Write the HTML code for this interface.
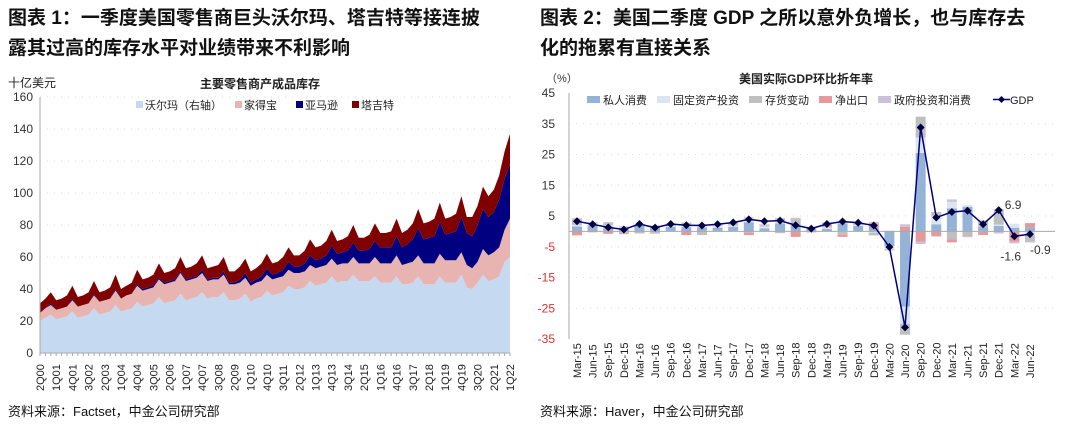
<!DOCTYPE html>
<html><head><meta charset="utf-8">
<style>
body{margin:0;width:1080px;height:425px;background:#fff;overflow:hidden;font-family:"Liberation Sans","Noto Sans CJK SC",sans-serif;}
svg{position:absolute;left:0;top:0}
</style></head>
<body>
<svg id="s" width="1080" height="425" xmlns="http://www.w3.org/2000/svg" font-family="Liberation Sans, Noto Sans CJK SC, sans-serif">
<text x="8" y="24" font-size="19" font-weight="bold" fill="#111">图表 1：一季度美国零售商巨头沃尔玛、塔吉特等接连披</text>
<text x="8" y="54" font-size="19" font-weight="bold" fill="#111">露其过高的库存水平对业绩带来不利影响</text>
<text x="540" y="24" font-size="19" font-weight="bold" fill="#111">图表 2：美国二季度 GDP 之所以意外负增长，也与库存去</text>
<text x="540" y="54" font-size="19" font-weight="bold" fill="#111">化的拖累有直接关系</text>
<text x="8" y="416" font-size="13" fill="#111">资料来源：Factset，中金公司研究部</text>
<text x="540" y="416" font-size="13" fill="#111">资料来源：Haver，中金公司研究部</text>
<text x="8" y="87" font-size="12" fill="#222">十亿美元</text>
<text x="260" y="88" font-size="12" font-weight="bold" fill="#222" text-anchor="middle">主要零售商产成品库存</text>
<text x="546" y="82" font-size="11" fill="#333">（%）</text>
<text x="806" y="83" font-size="12" font-weight="bold" fill="#222" text-anchor="middle">美国实际GDP环比折年率</text>
<g id="L"></g><g id="R"></g>
</svg>
<script>
// ---------- Left chart data ----------
const leftYears=['2000','2001','2002','2003','2004','2005','2006','2007','2008','2009','2010','2011','2012','2013','2014','2015','2016','2017','2018','2019','2020','2021','2022'];
const walmart=[20,22,24, 21,22,23,26, 22,23,24,28, 24,25,26,30, 26,27,28,32, 29,30,31,35, 31,32,33,37, 33,34,35,38, 34,35,35,38, 33,33,34,37, 32,34,35,39, 36,37,38,42, 40,40,41,45, 42,43,44,48, 44,45,45,49, 45,45,45,48, 44,44,44,48, 43,43,44,48, 43,43,43,48, 44,44,44,49, 41,40,44,49, 45,46,48,57, 60];
const homeDepot=[5,6,6, 6,6,6,7, 7,7,7,8, 8,8,8,9, 8,9,9,10, 10,10,10,11, 12,12,12,13, 12,12,12,12, 11,11,11,11, 10,10,10,10, 10,10,10,10, 10,10,10,10, 10,10,10,10, 11,11,11,11, 11,11,11,11, 11,11,11,12, 12,12,12,13, 12,13,13,13, 13,13,13,14, 14,14,14,14, 14,13,13,16, 16,17,18,20, 24];
const amazon=[0,0,1, 0,0,0,1, 0,0,0,1, 0,0,0,1, 0,0,0,1, 1,1,1,1, 1,1,1,1, 1,1,1,2, 1,1,1,2, 1,1,2,3, 2,2,3,4, 3,3,4,5, 4,4,5,6, 5,5,6,8, 7,7,8,9, 8,8,9,10, 10,10,10,12, 11,12,14,17, 15,16,17,20, 16,17,18,22, 20,20,23,25, 24,25,30,32, 34];
const target=[6,6,7, 6,6,7,8, 6,6,7,8, 6,6,7,9, 6,6,7,9, 6,6,7,9, 6,6,7,9, 7,7,8,9, 7,7,8,9, 7,7,8,9, 7,7,8,9, 7,7,8,9, 7,7,8,10, 8,8,9,10, 8,8,9,11, 8,8,9,11, 9,9,10,11, 9,9,10,12, 10,10,11,12, 10,10,11,13, 10,12,12,14, 13,14,15,17, 19];
const leftTicks=[0,20,40,60,80,100,120,140,160];
const leftSeriesNames=['沃尔玛（右轴）','家得宝','亚马逊','塔吉特'];
// ---------- Right chart data ----------
const rightCats=['Mar-15','Jun-15','Sep-15','Dec-15','Mar-16','Jun-16','Sep-16','Dec-16','Mar-17','Jun-17','Sep-17','Dec-17','Mar-18','Jun-18','Sep-18','Dec-18','Mar-19','Jun-19','Sep-19','Dec-19','Mar-20','Jun-20','Sep-20','Dec-20','Mar-21','Jun-21','Sep-21','Dec-21','Mar-22','Jun-22'];
const gdp=[3.3,2.3,1.3,0.6,2.4,1.2,2.4,2.0,1.9,2.3,2.9,3.9,3.3,3.5,2.0,0.9,2.4,3.2,2.8,1.9,-5.1,-31.2,33.8,4.5,6.3,6.7,2.3,6.9,-1.6,-0.9];
const consumption=[1.6,1.9,1.6,1.2,1.8,1.8,1.5,1.4,1.3,1.2,1.5,3.0,1.0,2.6,2.0,0.9,0.8,2.4,1.8,1.1,-4.8,-24.5,25.5,2.3,7.5,8.0,1.4,1.8,1.2,1.3];
const fixedInv=[0.5,0.7,0.4,0.3,0.2,0.1,0.2,0.4,0.8,0.6,0.4,1.3,0.6,0.8,0,0.3,0.4,-0.2,0.3,-0.4,-1,-5.5,5,2.6,2.1,0.6,-0.2,0.4,1.3,-1.3];
const inventory=[1.7,0.1,0.7,-0.7,-0.7,-0.5,0.4,1.0,-1.2,0.1,0.8,-0.4,0.4,-0.6,2.0,0.1,0.5,-0.9,-0.1,-0.9,-0.4,-3.6,6.8,1.4,-2.6,-1.3,2.1,5.0,-0.2,-2.0];
const netExports=[-1.3,-0.3,-0.8,-0.2,0.1,-0.2,0.4,-1.2,0.2,-0.1,0,-0.8,0,0.5,-1.8,-0.3,0.6,-0.7,0,1.5,0,1.5,-3.3,-1.5,-1.0,-0.2,-1.0,-0.2,-3.2,1.4];
const government=[0.5,0.3,0.3,0.2,0.3,0.1,0.1,0.1,0.0,0.4,0.2,0.3,0.3,0.4,0.4,-0.1,0.6,0.6,0.7,0.5,0.2,0.8,-0.8,-0.2,0.8,-0.4,0.1,-0.5,-0.5,-0.3];
const rightTicks=[45,35,25,15,5,-5,-15,-25,-35];
const gdpLabels=[[27,'6.9'],[28,'-1.6'],[29,'-0.9']];

const NS='http://www.w3.org/2000/svg';
function mk(p,t,a,txt){const e=document.createElementNS(NS,t);for(const k in a)e.setAttribute(k,a[k]);if(txt!==undefined)e.textContent=txt;p.appendChild(e);return e;}

// ---------- Left chart ----------
(function(){
const g=document.getElementById('L');
const x0=40,x1=510,yTop=97,yBot=353,vmax=160;
const n=walmart.length;
const X=i=>x0+(x1-x0)*i/(n-1);
const Y=v=>yBot-(yBot-yTop)*v/vmax;
leftTicks.forEach(t=>{
 if(t>0){const l=mk(g,'line',{x1:x0,x2:x1,y1:Y(t),y2:Y(t),stroke:'#ddd','stroke-dasharray':'1 6'});
 
 }
 const tx=mk(g,'text',{x:x0-7,y:Y(t)+4,'font-size':12,fill:'#333','text-anchor':'end'},String(t));
 
 
});
const series=[walmart,homeDepot,amazon,target];
const colors=['#c5d9f1','#e8b4b1','#000080','#800000'];
const names=['area-walmart','area-home-depot','area-amazon','area-target'];
let base=new Array(n).fill(0);
series.forEach((s,k)=>{
 const top=base.map((b,i)=>b+s[i]);
 let d='M'+top.map((v,i)=>X(i).toFixed(1)+','+Y(v).toFixed(1)).join('L');
 for(let i=n-1;i>=0;i--)d+='L'+X(i).toFixed(1)+','+Y(base[i]).toFixed(1);
 const p=mk(g,'path',{d:d+'Z',fill:colors[k]});
 
 
 base=top;
});
mk(g,'line',{x1:x0,x2:x0,y1:yTop,y2:yBot,stroke:'#aaa'});
mk(g,'line',{x1:x0,x2:x1,y1:yBot,y2:yBot,stroke:'#aaa'});
for(let i=0;i<n;i++){mk(g,'line',{x1:X(i),x2:X(i),y1:yBot,y2:yBot+3,stroke:'#aaa'});}
// x labels every 3 quarters starting 2Q00
for(let i=0;i<n;i+=3){
 const q=(i+1)%4+1, yr=leftYears[Math.floor((i+1)/4)].slice(2);
 const tx=mk(g,'text',{transform:`translate(${X(i)+4},${yBot+38}) rotate(-90)`,'font-size':11,fill:'#222'},q+'Q'+yr);
 
 
}
// legend
const lx=[136,235,296,352];
leftSeriesNames.forEach((nm,k)=>{
 const r=mk(g,'rect',{x:lx[k],y:101,width:7,height:7,fill:colors[k]});
 
 
 const t=mk(g,'text',{x:lx[k]+9,y:109,'font-size':11,fill:'#222'},nm);
 
 
});
})();

// ---------- Right chart ----------
(function(){
const g=document.getElementById('R');
const x0=569,x1=1055,yTop=93,yBot=339,vmax=45,vmin=-35;
const n=rightCats.length;
const step=15.62, cx0=577;
const X=i=>cx0+step*i;
const Y=v=>yTop+(yBot-yTop)*(vmax-v)/(vmax-vmin);
rightTicks.forEach(t=>{
 if(t!==45&&t!==-35){const l=mk(g,'line',{x1:x0,x2:x1,y1:Y(t),y2:Y(t),stroke:'#ddd','stroke-dasharray':'1 6'});
 
 }
 const tx=mk(g,'text',{x:x0-14,y:Y(t)+4,'font-size':12,fill:t<0?'#e03030':'#333','text-anchor':'end'},String(t));
 
 
});
const comps=[consumption,fixedInv,inventory,netExports,government];
const colors=['#95b3d7','#dce6f2','#bfbfbf','#e6999a','#ccc0da'];
const names=['bar-consumption','bar-fixed-investment','bar-inventory','bar-net-exports','bar-government'];
const bw=10;
for(let i=0;i<n;i++){
 let pos=0,neg=0;
 comps.forEach((c,k)=>{
  const v=c[i]; let a,b;
  if(v>=0){a=pos;b=pos+v;pos=b;}else{a=neg;b=neg+v;neg=b;}
  const r=mk(g,'rect',{x:X(i)-bw/2,y:Math.min(Y(a),Y(b)),width:bw,height:Math.abs(Y(a)-Y(b)),fill:colors[k]});
  
  
 });
}
mk(g,'line',{x1:x0,x2:x0,y1:yTop,y2:yBot,stroke:'#aaa'});
mk(g,'line',{x1:x0,x2:x1,y1:Y(0),y2:Y(0),stroke:'#aaa'});
const line=mk(g,'polyline',{points:gdp.map((v,i)=>X(i)+','+Y(v)).join(' '),fill:'none',stroke:'#000080','stroke-width':1.5});


gdp.forEach((v,i)=>{
 const d=mk(g,'path',{d:`M${X(i)},${Y(v)-4}l4,4l-4,4l-4,-4z`,fill:'#000040'});
 
 
});
gdpLabels.forEach(([i,s],k)=>{
 const off=[[6,-1],[-14,24],[0,20]][k];
 const t=mk(g,'text',{x:X(i)+off[0],y:Y(gdp[i])+off[1],'font-size':12,fill:'#333'},s);
 
 
});
rightCats.forEach((c,i)=>{
 const tx=mk(g,'text',{transform:`translate(${X(i)+4},${yBot+39}) rotate(-90)`,'font-size':11,fill:'#222'},c);
 
 
});
// legend
const leg=[['私人消费',601],['固定资产投资',671],['存货变动',763],['净出口',833],['政府投资和消费',892]];
leg.forEach(([nm,x],k)=>{
 const r=mk(g,'rect',{x:x-14,y:96,width:13,height:7,fill:colors[k]});
 
 
 const t=mk(g,'text',{x:x+2,y:104,'font-size':11,fill:'#222'},nm);
 
 
});
mk(g,'line',{x1:993,x2:1010,y1:99.5,y2:99.5,stroke:'#000080','stroke-width':1.5});
mk(g,'path',{d:'M1001.5,96l3.5,3.5l-3.5,3.5l-3.5,-3.5z',fill:'#000040'});
const gt=mk(g,'text',{x:1010,y:104,'font-size':11,fill:'#222'},'GDP');


})();
</script>
</body></html>
